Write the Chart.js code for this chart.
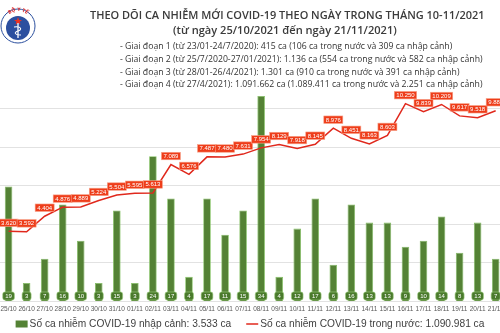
<!DOCTYPE html>
<html>
<head>
<meta charset="utf-8">
<script src="https://cdn.jsdelivr.net/npm/chart.js@4.4.1/dist/chart.umd.min.js"></script>
<style>
  html, body { margin:0; padding:0; background:#fff; }
  body { width:500px; height:333px; overflow:hidden; position:relative; font-family:"Open Sans", sans-serif; }
  #wrap { position:absolute; left:-4px; top:0; width:512px; height:333px; }
  .head { position:absolute; left:0; top:0; width:500px; height:92px; z-index:2; pointer-events:none; color:#3b3b3b; }
  .logo { position:absolute; left:0; top:2px; }
  .title { position:absolute; left:90px; top:7px; font-size:12px; font-weight:600; white-space:nowrap; }
  .sub { position:absolute; left:173px; top:22px; font-size:12px; font-weight:600; white-space:nowrap; }
  .notes { position:absolute; left:120px; top:40px; font-size:8.7px; line-height:12.8px; white-space:nowrap; color:#333; }
</style>
</head>
<body>
<div class="head">
  <svg class="logo" width="38" height="44" viewBox="0 0 38 44">
    <defs><path id="arc" d="M5,22 A13,13 0 0 1 31,22"/></defs>
    <circle cx="18" cy="24" r="17" fill="#fff" stroke="#2b4f9e" stroke-width="1"/>
    <text font-size="5" fill="#d22" font-weight="700"><textPath href="#arc" startOffset="50%" text-anchor="middle">BỘ Y TẾ</textPath></text>
    <circle cx="18" cy="26" r="12" fill="#2c4f9f"/>
    <polygon points="18,15 19,18 22,18 19.6,19.8 20.5,22.6 18,21 15.5,22.6 16.4,19.8 14,18 17,18" fill="#e32"/>
    <line x1="18" y1="21" x2="18" y2="36" stroke="#fff" stroke-width="1.3"/>
    <path d="M14,25 C22,24 22,28 18,29 C14,30 14,33 21,33" fill="none" stroke="#fff" stroke-width="1.1"/>
  </svg>
  <div class="title" data-w="395">THEO DÕI CA NHIỄM MỚI COVID-19 THEO NGÀY TRONG THÁNG 10-11/2021</div>
  <div class="sub" data-w="224">(từ ngày 25/10/2021 đến ngày 21/11/2021)</div>
  <div class="notes">
    - Giai đoạn 1 (từ 23/01-24/7/2020): 415 ca (106 ca trong nước và 309 ca nhập cảnh)<br>
    - Giai đoạn 2 (từ 25/7/2020-27/01/2021): 1.136 ca (554 ca trong nước và 582 ca nhập cảnh)<br>
    - Giai đoạn 3 (từ 28/01-26/4/2021): 1.301 ca (910 ca trong nước và 391 ca nhập cảnh)<br>
    - Giai đoạn 4 (từ 27/4/2021): 1.091.662 ca (1.089.411 ca trong nước và 2.251 ca nhập cảnh)
  </div>
</div>
<div id="wrap"><canvas id="chartCovid"></canvas></div>
<script>
const days = ['25/10','26/10','27/10','28/10','29/10','30/10','31/10','01/11','02/11','03/11','04/11','05/11','06/11','07/11',
  '08/11','09/11','10/11','11/11','12/11','13/11','14/11','15/11','16/11','17/11','18/11','19/11','20/11','21/11'];
const imported = [19,3,7,16,10,3,15,3,24,17,4,17,11,15,34,4,12,17,6,16,13,13,9,10,14,8,13,7];
const domestic = [3620,3592,4404,4876,4889,5224,5504,5595,5613,7089,6576,7487,7480,7631,
  7954,8129,7918,8145,8976,8451,8163,8603,10250,9839,10209,9617,9518,9882];
const legendImported = 'Số ca nhiễm COVID-19 nhập cảnh: 3.533 ca';
const legendDomestic = 'Số ca nhiễm COVID-19 trong nước: 1.090.981 ca';

const GREEN = '#548235', RED = '#e0281c', TAG = '#ee3d1a';
const fmt = v => v.toLocaleString('de-DE');

// shrink/grow header lines to their set width
document.querySelectorAll('[data-w]').forEach(el => {
  const fs = parseFloat(getComputedStyle(el).fontSize);
  el.style.fontSize = (fs * Number(el.dataset.w) / el.getBoundingClientRect().width) + 'px';
});

function roundBox(ctx, x, y, w, h, r){
  ctx.beginPath();
  ctx.moveTo(x+r, y); ctx.lineTo(x+w-r, y); ctx.quadraticCurveTo(x+w, y, x+w, y+r);
  ctx.lineTo(x+w, y+h-r); ctx.quadraticCurveTo(x+w, y+h, x+w-r, y+h);
  ctx.lineTo(x+r, y+h); ctx.quadraticCurveTo(x, y+h, x, y+h-r);
  ctx.lineTo(x, y+r); ctx.quadraticCurveTo(x, y, x+r, y);
  ctx.closePath();
}

// value tags: small green boxes at the foot of each bar, red boxes above each point
const tagPlugin = {
  id: 'tags',
  afterDatasetsDraw(chart){
    const ctx = chart.ctx;
    ctx.save();
    ctx.textAlign = 'center'; ctx.textBaseline = 'middle';
    ctx.font = '6px "Liberation Sans", Arial, sans-serif';

    const base = chart.scales.yBar.getPixelForValue(0);
    chart.getDatasetMeta(0).data.forEach((bar, i) => {
      const t = String(imported[i]);
      const w = Math.max(ctx.measureText(t).width + 5, 9), h = 8;
      roundBox(ctx, bar.x - w/2, base - 9, w, h, 2);
      ctx.fillStyle = '#4a7a2c'; ctx.fill();
      ctx.strokeStyle = '#9ccf7e'; ctx.lineWidth = 0.6; ctx.stroke();
      ctx.fillStyle = '#fff';
      ctx.fillText(t, bar.x, base - 5);
    });

    chart.getDatasetMeta(1).data.forEach((pt, i) => {
      const t = fmt(domestic[i]);
      const w = ctx.measureText(t).width + 4, h = 7.5;
      const cy = pt.y - 8.5;
      ctx.fillStyle = TAG;
      ctx.fillRect(pt.x - w/2, cy - h/2, w, h);
      ctx.strokeStyle = '#f7a48c'; ctx.lineWidth = 0.6;
      ctx.strokeRect(pt.x - w/2, cy - h/2, w, h);
      ctx.fillStyle = '#fff';
      ctx.fillText(t, pt.x, cy + 0.3);
    });
    ctx.restore();
  }
};

// one-row legend under the axis: green box for bars, red stroke for the line
const legendPlugin = {
  id: 'bottomLegend',
  afterDraw(chart){
    const ctx = chart.ctx;
    const ds = chart.data.datasets;
    ctx.save();
    ctx.font = '10.2px "Liberation Sans", Arial, sans-serif';
    ctx.textBaseline = 'middle'; ctx.textAlign = 'left';
    const sw = 12, gapText = 2, gapItem = 15;
    const widths = ds.map(d => ctx.measureText(d.label).width);
    const total = widths.reduce((s, w) => s + sw + gapText + w, 0) + gapItem;
    let x = chart.width / 2 - 2 - total / 2;
    const y = 324;
    ds.forEach((d, i) => {
      if (d.type === 'bar') {
        ctx.fillStyle = d.backgroundColor;
        ctx.fillRect(x, y - 3.5, sw, 7);
      } else {
        ctx.strokeStyle = d.borderColor; ctx.lineWidth = 1.5;
        ctx.beginPath(); ctx.moveTo(x, y); ctx.lineTo(x + sw, y); ctx.stroke();
      }
      ctx.fillStyle = '#404040';
      ctx.fillText(d.label, x + sw + gapText, y + 0.5);
      x += sw + gapText + widths[i] + gapItem;
    });
    ctx.restore();
  }
};

new Chart(document.getElementById('chartCovid'), {
  data: {
    labels: days,
    datasets: [
      { type:'bar', label: legendImported, data: imported, yAxisID:'yBar', order:1,
        backgroundColor: GREEN, borderColor: '#82c060', borderWidth: 0.8,
        barPercentage: 0.42, categoryPercentage: 1 },
      { type:'line', label: legendDomestic, data: domestic, yAxisID:'yLine', order:0,
        borderColor: RED, backgroundColor: RED, borderWidth: 1.5, tension: 0,
        pointRadius: 0, pointHoverRadius: 0 }
    ]
  },
  options: {
    responsive: true, maintainAspectRatio: false, animation: false,
    layout: { padding: { top: 70, left: 0, right: 0, bottom: 17 } },
    plugins: {
      tooltip: { enabled: false },
      legend: { display: false }
    },
    scales: {
      x: {
        offset: true,
        grid: { display: false, drawTicks: false },
        border: { display: false },
        afterFit: s => { s.height = 15; },
        ticks: { autoSkip: false, maxRotation: 0, padding: 4.5, color: '#595959',
                 font: { size: 6.5, family: '"Liberation Sans", Arial, sans-serif' } }
      },
      yLine: {
        position: 'left', min: 0, max: 12000,
        ticks: { display: false, stepSize: 2000 },
        border: { display: false },
        grid: { drawTicks: false, color: c => c.tick.value === 12000 ? 'rgba(0,0,0,0)' : '#e2e2e2' }
      },
      yBar: { display: false, min: 0, max: 38.3 }
    }
  },
  plugins: [tagPlugin, legendPlugin]
});
</script>
</body>
</html>
